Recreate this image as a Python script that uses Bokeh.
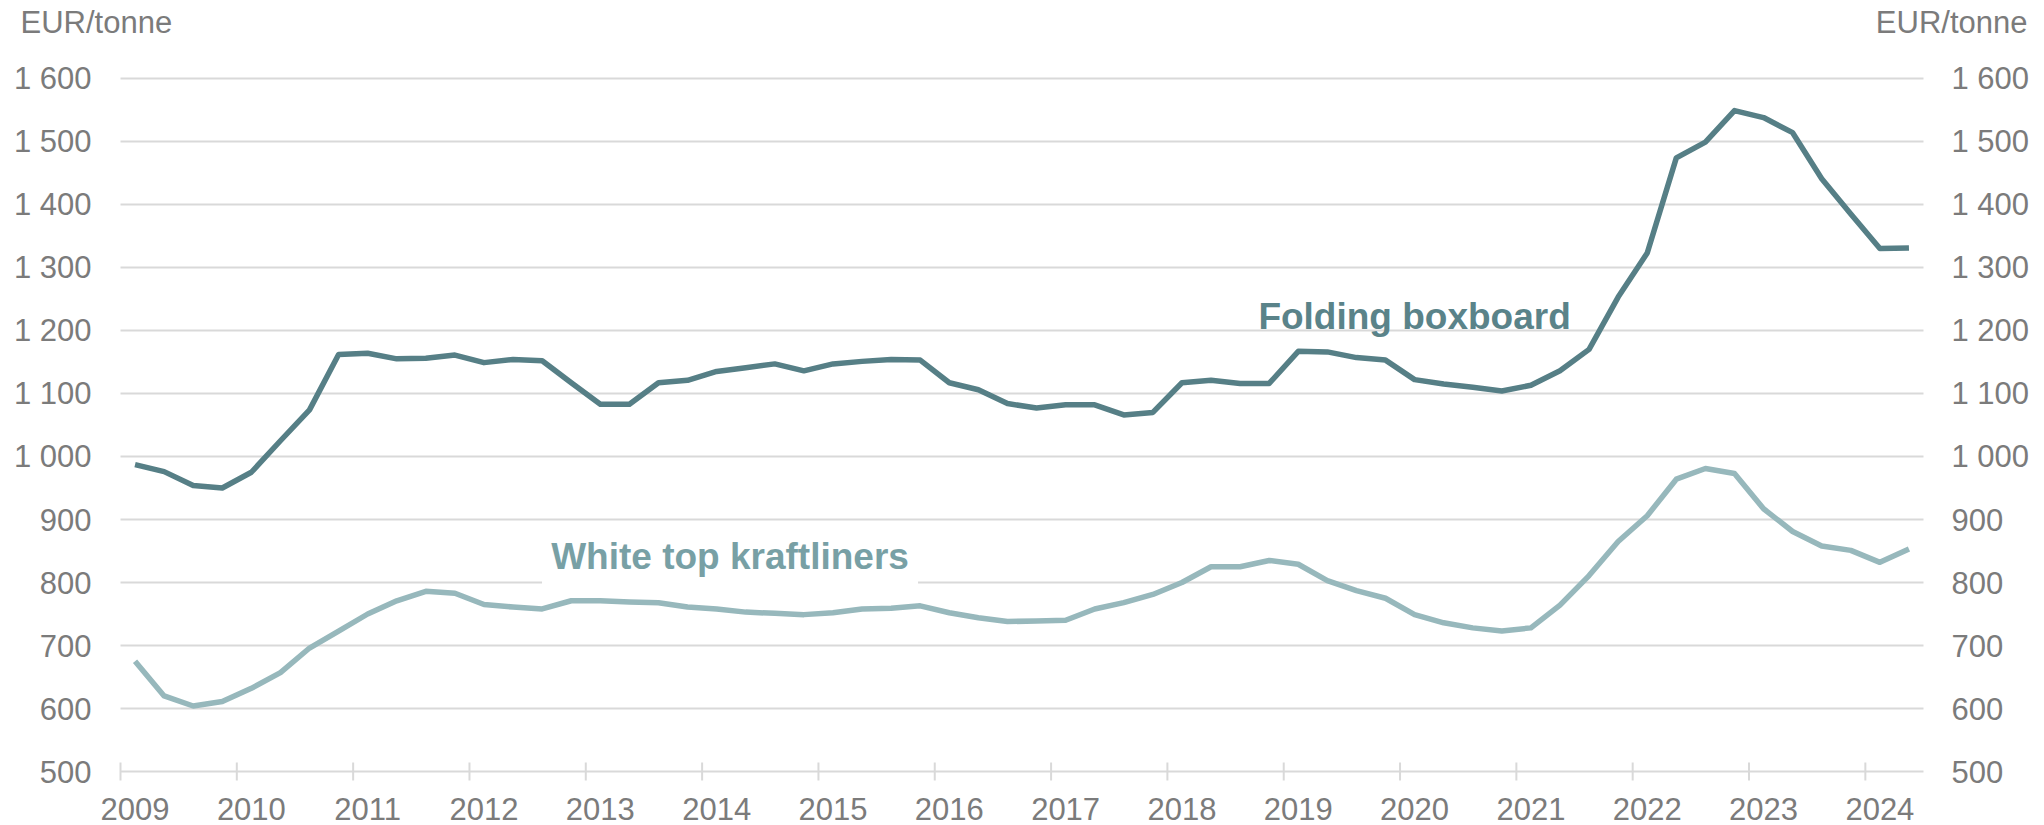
import math
from bokeh.plotting import figure
from bokeh.models import ColumnDataSource, Range1d
from bokeh.core.properties import value
from bokeh.embed import file_html
from bokeh.resources import INLINE

# Quarterly prices, 2009 Q1 .. 2024 Q2 (EUR/tonne)
folding_boxboard = [
    987, 976, 954, 950, 975, 1025, 1074, 1162, 1164, 1155, 1156, 1161, 1149, 1154, 1152, 1117,
    1083, 1083, 1117, 1121, 1135, 1141, 1147, 1136, 1147, 1151, 1154, 1153, 1117, 1106, 1084, 1077,
    1082, 1082, 1066, 1070, 1117, 1121, 1116, 1116, 1167, 1166, 1157, 1153, 1122, 1115, 1110, 1104,
    1113, 1136, 1170, 1253, 1323, 1474, 1499, 1549, 1538, 1514, 1441, 1385, 1330, 1331,
]
white_top_kraftliners = [
    675, 620, 604, 611, 632, 657, 696, 723, 750, 771, 786, 783, 765, 761, 758, 771,
    771, 769, 768, 761, 758, 753, 751, 749, 752, 758, 759, 763, 752, 744, 738, 739,
    740, 758, 768, 781, 800, 825, 825, 835, 829, 803, 787, 775, 749, 736, 728, 723,
    728, 764, 811, 865, 906, 964, 981, 973, 917, 881, 858, 851, 832, 853,
]
years = [str(y) for y in range(2009, 2025)]
y_ticks = [500, 600, 700, 800, 900, 1000, 1100, 1200, 1300, 1400, 1500, 1600]
y_tick_labels = ["500", "600", "700", "800", "900", "1 000", "1 100", "1 200",
                 "1 300", "1 400", "1 500", "1 600"]
unit_label = "EUR/tonne"
series_names = ["Folding boxboard", "White top kraftliners"]

DARK = "#567f86"
LIGHT = "#97b8bc"
GRID = "#d9d9d9"
TEXT = "#7b7b7b"
FONT = "Liberation Sans"

# canvas and plot-area geometry (pixels)
W, H = 2044, 825
LEFT, RIGHT, TOP, BOTTOM = 120, 1923, 78, 771

n = len(folding_boxboard)
y_lo, y_hi = y_ticks[0], y_ticks[-1]
px_per_q = (RIGHT - LEFT) / n
px_per_v = (BOTTOM - TOP) / (y_hi - y_lo)
x0, x1 = -0.5, n - 0.5          # plot-area edges in quarter units

p = figure(width=W, height=H, output_backend="svg", toolbar_location=None,
           x_range=Range1d(x0 - LEFT / px_per_q, x1 + (W - RIGHT) / px_per_q),
           y_range=Range1d(y_lo - (H - BOTTOM) / px_per_v, y_hi + TOP / px_per_v),
           x_axis_type=None, y_axis_type=None, min_border=0)
p.outline_line_color = None
p.background_fill_color = "white"
p.border_fill_color = "white"

# horizontal gridlines across the plot area (the lowest one doubles as the axis line)
p.segment(x0=[x0] * len(y_ticks), x1=[x1] * len(y_ticks), y0=y_ticks, y1=y_ticks,
          line_color=GRID, line_width=2)

# year-boundary tick marks crossing the axis line
year_starts = [4 * k for k in range(len(years))]
p.scatter(x=[q - 0.5 for q in year_starts], y=[y_lo] * len(years), marker="dash",
          size=18, angle=math.pi / 2, line_color=GRID, line_width=2)

# white box behind the kraftliner series name
wt_pos = (20.46, 841)
fb_pos = (44.0, 1222)
p.rect(x=[wt_pos[0]], y=[wt_pos[1]], width=376, height=60, width_units="screen",
       height_units="screen", fill_color="white", line_color=None)

src = ColumnDataSource(dict(q=list(range(n)), fb=folding_boxboard, wt=white_top_kraftliners))
p.line("q", "wt", source=src, line_color=LIGHT, line_width=5.5, line_join="round")
p.line("q", "fb", source=src, line_color=DARK, line_width=5.5, line_join="round")

tick_font = dict(text_font=value(FONT), text_font_size="31px", text_color=TEXT)

# year labels, centred on the first quarter of each year
p.text(x=year_starts, y=[y_lo] * len(years), text=years, text_align="center",
       text_baseline="middle", y_offset=37, **tick_font)

# value labels on both sides
p.text(x=[x0] * len(y_ticks), y=y_ticks, text=y_tick_labels, text_align="right",
       text_baseline="middle", x_offset=-29, **tick_font)
p.text(x=[x1] * len(y_ticks), y=y_ticks, text=y_tick_labels, text_align="left",
       text_baseline="middle", x_offset=28, **tick_font)

# unit captions above both value scales
p.text(x=[x0], y=[y_hi], text=[unit_label], text_align="left", text_baseline="middle",
       x_offset=-100, y_offset=-56, **tick_font)
p.text(x=[x1], y=[y_hi], text=[unit_label], text_align="right", text_baseline="middle",
       x_offset=104, y_offset=-56, **tick_font)

# series names
p.text(x=[fb_pos[0]], y=[fb_pos[1]], text=[series_names[0]], text_align="center",
       text_baseline="middle", text_font=value(FONT), text_font_size="37px",
       text_font_style="bold", text_color="#5a8389")
p.text(x=[wt_pos[0]], y=[wt_pos[1]], text=[series_names[1]], text_align="center",
       text_baseline="middle", text_font=value(FONT), text_font_size="37px",
       text_font_style="bold", text_color="#78a0a5")

open("out.html", "w").write(file_html(p, INLINE))
